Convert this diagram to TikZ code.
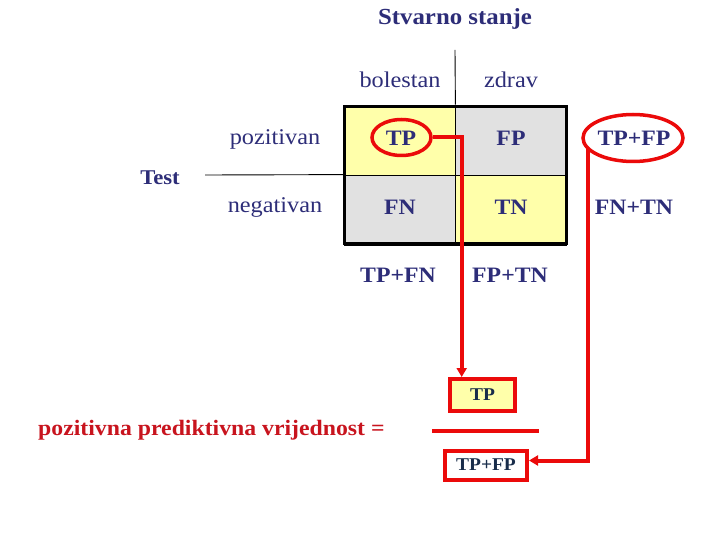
\documentclass[tikz,border=0pt]{standalone}
\usepackage{fontspec}
\setmainfont{Liberation Serif}[FakeStretch=1.08]
\usetikzlibrary{shapes.geometric,arrows.meta}
\definecolor{navy}{RGB}{45,45,120}
\definecolor{boxtext}{RGB}{25,45,75}
\definecolor{redline}{RGB}{235,10,10}
\definecolor{redtext}{RGB}{200,20,30}
\definecolor{cellyellow}{RGB}{255,255,170}
\definecolor{cellgray}{RGB}{225,225,225}
\tikzset{
  x=1pt,y=1pt,
  lbl/.style={text=navy,font=\fontsize{22}{24}\selectfont\bfseries,inner sep=0},
  reglbl/.style={text=navy,font=\fontsize{22.5}{26}\selectfont,inner sep=0},
  cell/.style={draw=black,line width=0.8pt,minimum width=111pt,minimum height=70pt,inner sep=0},
  ring/.style={ellipse,draw=redline,line width=3.5pt,inner sep=0},
  redbox/.style={draw=redline,line width=4pt,inner sep=0,text=boxtext,font=\fontsize{18}{20}\selectfont\bfseries},
  conn/.style={draw=redline,line width=4pt,-{Triangle[length=9pt,width=10pt]}},
}
\begin{document}
\begin{tikzpicture}
\useasboundingbox (0,0) rectangle (720,-540);
% title
\node[text=navy,font=\fontsize{23}{26}\selectfont\bfseries,inner sep=0] (title) at (455,-19) {Stvarno stanje};
\node[reglbl] (bol) at (400,-80) {bolestan};
\node[reglbl] (zdr) at (511,-80) {zdrav};
\node[reglbl] (poz) at (275,-139) {pozitivan};
\node[reglbl] (neg) at (275,-207) {negativan};
\node[lbl,font=\fontsize{21}{24}\selectfont\bfseries] (test) at (160,-178) {Test};
% cells
\node[cell,fill=cellyellow] (tp) at (399.5,-140) {};
\node[cell,fill=cellgray] (fp) at (511,-140) {};
\node[cell,fill=cellgray] (fn) at (399.5,-210) {};
\node[cell,fill=cellyellow] (tn) at (511,-210) {};
\node[lbl] (tpl) at (401,-138) {TP};
\node[lbl] (fpl) at (511,-138) {FP};
\node[lbl] (fnl) at (400,-207) {FN};
\node[lbl] (tnl) at (511,-207) {TN};
\draw[line width=3pt] (344.5,-106.5) rectangle (566.5,-243.5);
% axis lines
\coordinate (vtop) at (455,-50);
\coordinate (hleft) at (205,-175);
\draw[line width=0.9pt] (vtop) -- (tp.north east);
\draw[line width=0.9pt] (hleft) -- (fn.north west);
% margins
\node[lbl] (tpfp) at (634,-138) {TP+FP};
\node[lbl] (fntn) at (634,-207) {FN+TN};
\node[lbl] (tpfn) at (398,-275) {TP+FN};
\node[lbl] (fptn) at (510,-275) {FP+TN};
% ellipses
\node[ring,minimum width=59pt,minimum height=36pt] (e1) at (401.5,-137.5) {};
\node[ring,minimum width=100pt,minimum height=47pt] (e2) at (633,-138) {};
% formula
\node[text=redtext,font=\fontsize{22}{26}\selectfont\bfseries,inner sep=0,anchor=west] (ppv) at (38,-430) {pozitivna prediktivna vrijednost =};
\node[redbox,fill=cellyellow,minimum width=65pt,minimum height=32pt] (num) at (482.5,-395) {TP};
\node[redbox,fill=white,minimum width=82pt,minimum height=29pt] (den) at (486,-465) {TP+FP};
\coordinate (fl) at (432,-431);
\coordinate (fr) at (539,-431);
\draw[redline,line width=4.5pt] (fl) -- (fr);
% connectors
\coordinate (c1) at (461.7,-137.5);
\draw[conn] (e1.east) -- (c1) -- (c1 |- num.north);
\coordinate (s2) at (587.7,-149);
\coordinate (c2) at (587.7,-460.5);
\draw[conn] (s2) -- (c2) -- (c2 -| den.east);
\end{tikzpicture}
\end{document}
